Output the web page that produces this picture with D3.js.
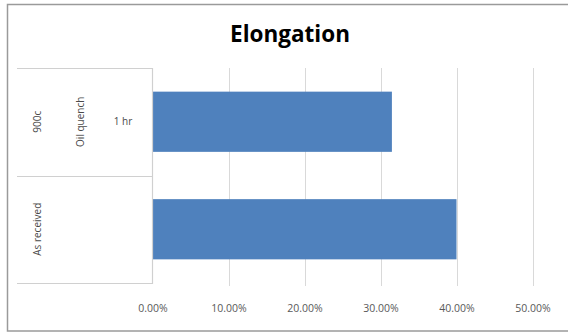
<!DOCTYPE html>
<html>
<head>
<meta charset="utf-8">
<script src="https://cdn.jsdelivr.net/npm/d3@7"></script>
<style>
  html, body { margin: 0; padding: 0; background: #fff; }
  svg { display: block; }
</style>
</head>
<body>
<svg id="chart" width="568" height="333"></svg>
<script>
// Category hierarchy (outer → inner), one entry per bar
const categories = ["900c|Oil quench|1 hr", "As received"];
const outerLabels = ["900c", "As received"];
const middleLabels = ["Oil quench", ""];
const innerLabels = ["1 hr", ""];
const elongation = [0.315, 0.40];
const tickValues = [0, 0.1, 0.2, 0.3, 0.4, 0.5];

const svg = d3.select("#chart");
const W = 568, H = 333;
const plot = { left: 152.5, right: 532.5, top: 68, bottom: 283 };
const catLeft = 17;

// chart frame
svg.append("rect")
  .attr("x", 7.5).attr("y", 4.5)
  .attr("width", W + 10).attr("height", 326.5)
  .attr("fill", "#fff")
  .attr("stroke", "#9a9a9a").attr("stroke-width", 1.5);

// title
svg.append("text")
  .attr("x", 290).attr("y", 42)
  .attr("text-anchor", "middle")
  .attr("font-family", "'Open Sans', sans-serif")
  .attr("font-weight", "bold")
  .attr("font-size", 22.5)
  .attr("fill", "#000")
  .text("Elongation");

const x = d3.scaleLinear().domain([0, 0.5]).range([plot.left, plot.right]);
const y = d3.scaleBand().domain(categories)
  .range([plot.top, plot.bottom])
  .paddingInner(0.44).paddingOuter(0.22);

// vertical gridlines
svg.append("g").selectAll("line")
  .data(tickValues.slice(1))
  .join("line")
  .attr("x1", d => Math.round(x(d)) + 0.5).attr("x2", d => Math.round(x(d)) + 0.5)
  .attr("y1", plot.top).attr("y2", plot.bottom + 3)
  .attr("stroke", "#d9d9d9").attr("stroke-width", 1);

// bars
svg.append("g").selectAll("rect")
  .data(categories)
  .join("rect")
  .attr("x", x(0))
  .attr("y", d => y(d))
  .attr("width", (d, i) => x(elongation[i]) - x(0))
  .attr("height", y.bandwidth())
  .attr("fill", "#4f81bd");

// x axis labels
const xAxis = d3.axisBottom(x)
  .tickValues(tickValues)
  .tickFormat(d3.format(".2%"))
  .tickSize(0).tickPadding(0);
const gx = svg.append("g")
  .attr("transform", `translate(0, ${plot.bottom + 22})`)
  .call(xAxis);
gx.select(".domain").remove();
gx.selectAll("text")
  .attr("font-family", "'Open Sans', sans-serif")
  .attr("font-size", 10.5)
  .attr("fill", "#595959");

// category box lines
const step = y.step();
const boundaries = d3.range(categories.length + 1).map(i => plot.top + i * step);
svg.append("g").selectAll("line")
  .data(boundaries)
  .join("line")
  .attr("x1", catLeft).attr("x2", plot.left)
  .attr("y1", d => Math.round(d) + 0.5).attr("y2", d => Math.round(d) + 0.5)
  .attr("stroke", "#d0d0d0").attr("stroke-width", 1.2);
svg.append("line")
  .attr("x1", plot.left).attr("x2", plot.left)
  .attr("y1", plot.top).attr("y2", plot.bottom + 1)
  .attr("stroke", "#d0d0d0").attr("stroke-width", 1.2);

// multi-level category labels
const levelX = [37, 80, 123];
const labelFont = "'Open Sans', sans-serif";
const gCat = svg.append("g")
  .attr("font-family", labelFont)
  .attr("font-size", 10)
  .attr("fill", "#4a4a4a");

categories.forEach((c, i) => {
  const cy = y(c) + y.bandwidth() / 2;
  [outerLabels[i], middleLabels[i]].forEach((t, lvl) => {
    if (!t) return;
    gCat.append("text")
      .attr("transform", `translate(${levelX[lvl] + 3.5}, ${cy}) rotate(-90)`)
      .attr("text-anchor", "middle")
      .text(t);
  });
  if (innerLabels[i]) {
    gCat.append("text")
      .attr("x", levelX[2]).attr("y", cy + 3.5)
      .attr("text-anchor", "middle")
      .text(innerLabels[i]);
  }
});
</script>
</body>
</html>
